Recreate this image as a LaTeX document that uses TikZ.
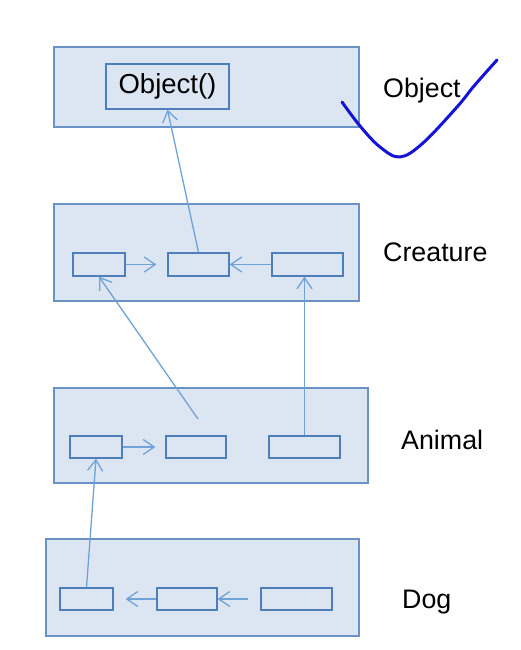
\documentclass[tikz,border=0pt]{standalone}
\usepackage{fontspec}
\setmainfont{Liberation Sans}
\usetikzlibrary{arrows.meta}
\definecolor{framefill}{HTML}{DCE6F2}
\definecolor{framedraw}{HTML}{6A92C4}
\definecolor{boxdraw}{HTML}{4F7FBA}
\definecolor{linkcol}{HTML}{6FA3D8}
\definecolor{penblue}{HTML}{1414D8}
\tikzset{
  frame/.style={draw=framedraw, fill=framefill, line width=1.3pt, inner sep=0pt},
  inbox/.style={draw=boxdraw, fill=framefill, line width=1.3pt, inner sep=0pt, minimum height=23pt},
  link/.style={draw=linkcol, line width=1.3pt},
  arr/.style={link, -{Straight Barb[length=11pt,width=15pt,line width=1.3pt]}},
  lbl/.style={anchor=base west, font=\fontsize{26.8}{30}\selectfont, inner sep=0pt},
}
\begin{document}
\begin{tikzpicture}[x=1pt,y=-1pt]
\useasboundingbox[fill=white] (0,0) rectangle (521,650);
% frames
\node[frame, minimum width=305pt, minimum height=80pt] (fobj) at (206.5,87) {};
\node[frame, minimum width=305pt, minimum height=97pt] (fcre) at (206.5,252.5) {};
\node[frame, minimum width=314pt, minimum height=95pt] (fani) at (211,435.5) {};
\node[frame, minimum width=313pt, minimum height=97pt] (fdog) at (202.5,587.5) {};
% inner boxes
\node[inbox, minimum width=123pt, minimum height=45pt, font=\fontsize{27.5}{30}\selectfont] (obj) at (167.5,86.5) {Object()};
\node[inbox, minimum width=52pt] (c1) at (99,264.5) {};
\node[inbox, minimum width=61pt] (c2) at (198.5,264.5) {};
\node[inbox, minimum width=71pt] (c3) at (307.5,264.5) {};
\node[inbox, minimum width=52pt, minimum height=22pt] (a1) at (96,447) {};
\node[inbox, minimum width=60pt, minimum height=22pt] (a2) at (196,447) {};
\node[inbox, minimum width=71pt, minimum height=22pt] (a3) at (304.5,447) {};
\node[inbox, minimum width=53pt, minimum height=22pt] (d1) at (86.5,599) {};
\node[inbox, minimum width=60pt, minimum height=22pt] (d2) at (187,599) {};
\node[inbox, minimum width=71pt, minimum height=22pt] (d3) at (296.5,599) {};
% labels
\node[lbl] (lobj) at (383,98) {Object};
\node[lbl] (lcre) at (383,261) {Creature};
\node[lbl] (lani) at (401,449) {Animal};
\node[lbl] (ldog) at (402,608) {Dog};
% connectors
\draw[arr] (c2.north) -- (obj.south);
\draw[arr, shorten >=11pt] (c1.east) -- (c2.west);
\draw[arr] (c3.west) -- (c2.east);
\coordinate (fa) at (198,419);
\draw[arr] (fa) -- (c1.south);
\draw[arr] (a3.north) -- (a3.north |- c3.south);
\draw[arr, shorten >=10pt] (a1.east) -- (a2.west);
\draw[arr] (d1.north) -- (a1.south);
\draw[arr, shorten >=12pt] (d2.west) -- (d1.east);
\draw[arr, shorten <=12pt] (d3.west) -- (d2.east);
% pen stroke
\draw[penblue, line width=3pt, line cap=round, line join=round]
  plot[smooth, tension=0.6] coordinates {(342,102) (360,126) (380,147) (400,157) (423,143) (457,107) (474,86) (497,60)};
\end{tikzpicture}
\end{document}
